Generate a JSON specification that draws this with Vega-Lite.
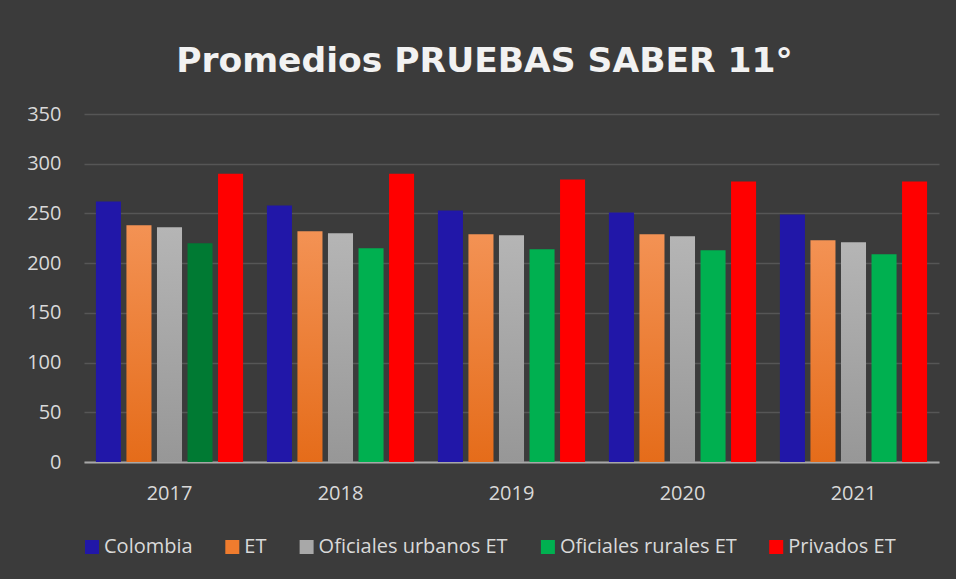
{
  "$schema": "https://vega.github.io/schema/vega-lite/v6.json",
  "autosize": {"type": "none"},
  "width": 855,
  "height": 348,
  "padding": {"left": 84, "top": 114, "right": 17, "bottom": 117},
  "background": "#3b3b3b",
  "title": {
    "text": "Promedios PRUEBAS SABER 11°",
    "frame": "group",
    "anchor": "middle",
    "baseline": "alphabetic",
    "offset": -2,
    "dx": -27,
    "font": "DejaVu Sans",
    "fontSize": 34.5,
    "fontWeight": "bold",
    "color": "#F2F2F2"
  },
  "data": {
    "values": [
      {"anio": "2017", "serie": "Colombia", "valor": 262},
      {"anio": "2017", "serie": "ET", "valor": 238},
      {"anio": "2017", "serie": "Oficiales urbanos ET", "valor": 236},
      {"anio": "2017", "serie": "Oficiales rurales ET", "valor": 220},
      {"anio": "2017", "serie": "Privados ET", "valor": 290},
      {"anio": "2018", "serie": "Colombia", "valor": 258},
      {"anio": "2018", "serie": "ET", "valor": 232},
      {"anio": "2018", "serie": "Oficiales urbanos ET", "valor": 230},
      {"anio": "2018", "serie": "Oficiales rurales ET", "valor": 215},
      {"anio": "2018", "serie": "Privados ET", "valor": 290},
      {"anio": "2019", "serie": "Colombia", "valor": 253},
      {"anio": "2019", "serie": "ET", "valor": 229},
      {"anio": "2019", "serie": "Oficiales urbanos ET", "valor": 228},
      {"anio": "2019", "serie": "Oficiales rurales ET", "valor": 214},
      {"anio": "2019", "serie": "Privados ET", "valor": 284},
      {"anio": "2020", "serie": "Colombia", "valor": 251},
      {"anio": "2020", "serie": "ET", "valor": 229},
      {"anio": "2020", "serie": "Oficiales urbanos ET", "valor": 227},
      {"anio": "2020", "serie": "Oficiales rurales ET", "valor": 213},
      {"anio": "2020", "serie": "Privados ET", "valor": 282},
      {"anio": "2021", "serie": "Colombia", "valor": 249},
      {"anio": "2021", "serie": "ET", "valor": 223},
      {"anio": "2021", "serie": "Oficiales urbanos ET", "valor": 221},
      {"anio": "2021", "serie": "Oficiales rurales ET", "valor": 209},
      {"anio": "2021", "serie": "Privados ET", "valor": 282}
    ]
  },
  "mark": {"type": "bar"},
  "encoding": {
    "x": {
      "field": "anio",
      "type": "nominal",
      "scale": {"paddingInner": 0, "paddingOuter": 0},
      "axis": {
        "title": null,
        "labelAngle": 0,
        "ticks": false,
        "labelPadding": 21,
        "domainColor": "#A8A8A8",
        "domainWidth": 2,
        "grid": false
      }
    },
    "xOffset": {
      "field": "serie",
      "type": "nominal",
      "scale": {
        "domain": ["Colombia", "ET", "Oficiales urbanos ET", "Oficiales rurales ET", "Privados ET"],
        "paddingInner": 0.18,
        "paddingOuter": 0.39
      }
    },
    "y": {
      "field": "valor",
      "type": "quantitative",
      "scale": {"domain": [0, 350], "nice": false},
      "axis": {
        "title": null,
        "values": [0, 50, 100, 150, 200, 250, 300, 350],
        "domain": false,
        "ticks": false,
        "labelPadding": 23,
        "gridColor": "#FFFFFF",
        "gridOpacity": 0.14,
        "gridWidth": 1.5
      }
    },
    "color": {
      "field": "serie",
      "type": "nominal",
      "scale": {
        "domain": ["Colombia", "ET", "Oficiales urbanos ET", "Oficiales rurales ET", "Privados ET"],
        "range": ["#2117A8", "#EF7C2E", "#A8A8A8", "#00B050", "#FF0000"]
      },
      "condition": [
        {"test": "datum.serie === 'ET'", "value": {"gradient": "linear", "x1": 0, "y1": 0, "x2": 0, "y2": 1, "stops": [{"offset": 0, "color": "#F39254"}, {"offset": 1, "color": "#E56C1A"}]}},
        {"test": "datum.serie === 'Oficiales urbanos ET'", "value": {"gradient": "linear", "x1": 0, "y1": 0, "x2": 0, "y2": 1, "stops": [{"offset": 0, "color": "#B5B5B5"}, {"offset": 1, "color": "#979797"}]}},
        {"test": "datum.serie === 'Oficiales rurales ET' && datum.anio === '2017'", "value": "#007A33"}
      ],
      "legend": {
        "title": null,
        "orient": "none",
        "direction": "horizontal",
        "legendX": -2,
        "legendY": 423,
        "symbolType": "square",
        "symbolSize": 196,
        "symbolStrokeWidth": 0,
        "labelOffset": 2,
        "columnPadding": 29.3,
        "labelFontSize": 20,
        "labelFont": "Open Sans",
        "labelColor": "#D9D9D9",
        "labelLimit": 400
      }
    }
  },
  "config": {
    "view": {"stroke": null},
    "axis": {
      "labelFont": "Open Sans",
      "labelFontSize": 20,
      "labelColor": "#D9D9D9"
    }
  }
}
